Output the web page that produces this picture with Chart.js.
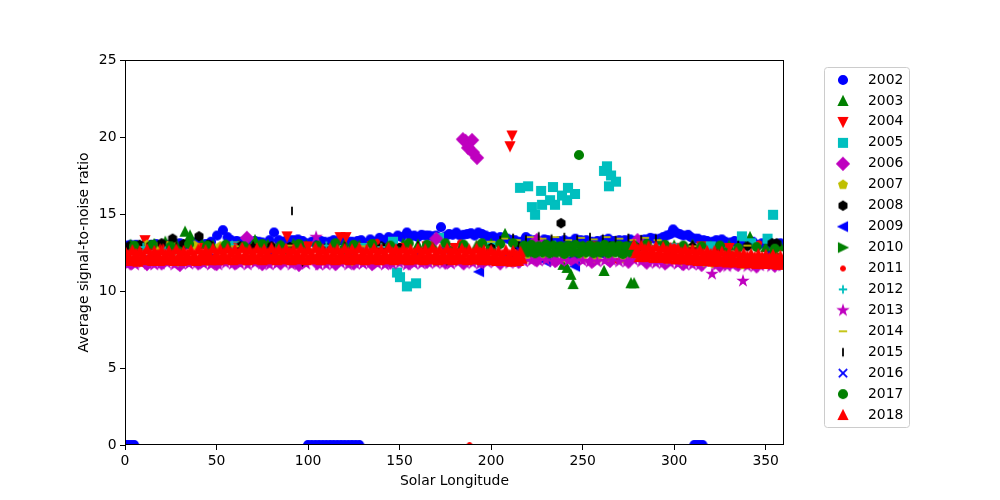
<!DOCTYPE html>
<html>
<head>
<meta charset="utf-8">
<script src="https://cdn.jsdelivr.net/npm/chart.js@4.4.0/dist/chart.umd.min.js"></script>
<style>
  html, body { margin: 0; padding: 0; background: #fff; }
</style>
</head>
<body>
<canvas id="chart" width="1000" height="500"></canvas>
<script>
const years = ['2002', '2003', '2004', '2005', '2006', '2007', '2008', '2009', '2010',
  '2011', '2012', '2013', '2014', '2015', '2016', '2017', '2018'];

// [solar longitude, average SNR] pairs
const snr2002 = [[0.5,0],[2,0],[3.5,0],[5,0],[100,0],[102,0],[104,0],[106,0],[108,0],[110,0],[112,0],
  [114,0],[116,0],[118,0],[120,0],[122,0],[124,0],[126,0],[128,0],[311,0],[312.5,0],[314,0],[315.5,0],
  [3,13.0],[8,12.9],[14,13.0],[20,12.95],[27,13.1],[33,13.0],[38,13.15],[44,13.05],[50.3,13.6],[53.5,13.95],
  [58,13.3],[63,13.2],[68,13.15],[73,13.2],[77,13.05],[81.4,13.8],[86,13.2],[90,13.3],[94.5,13.35],[99,13.1],
  [104,13.25],[109,13.2],[114,13.3],[119,13.25],[124,13.2],[129,13.3],[134,13.35],[139,13.45],[144,13.5],
  [149,13.6],[154,13.8],[158,13.6],[162,13.65],[166,13.6],[172.6,14.15],[177,13.7],[181,13.8],[185,13.65],
  [189,13.75],[193,13.8],[197,13.6],[201,13.55],[205,13.5],[209,13.4],[213,13.3],[219,13.5],[224,13.3],
  [229,13.35],[234,13.2],[240,13.3],[246,13.4],[252,13.3],[258,13.25],[264,13.4],[270,13.3],[276,13.35],
  [282,13.3],[287,13.45],[292,13.4],[296,13.6],[299.4,14.0],[303,13.7],[307.6,13.65],[311,13.4],[316,13.3],
  [321,13.2],[326,13.35],[331,13.15],[336,13.2],[341,13.1],[346,13.0],[351,13.1],[356,13.05],[359,13.0],
  [1,12.95],[6,13.0],[11,12.95],[17,13.05],[24,13.0],[30,13.1],[36,13.05],[41,13.1],[47,13.2],[56,13.5],
  [61,13.25],[66,13.2],[71,13.25],[75,13.15],[79,13.3],[84,13.3],[88,13.25],[92,13.3],[97,13.25],[102,13.2],
  [107,13.25],[112,13.2],[117,13.3],[122,13.2],[127,13.25],[131,13.1],[136,13.2],[141,13.3],[146,13.4],
  [151,13.5],[156,13.55],[160,13.5],[164,13.6],[168,13.55],[170,13.6],[175,13.55],[179,13.65],[183,13.6],
  [187,13.7],[191,13.6],[195,13.7],[199,13.5],[203,13.4],[207,13.45],[211,13.3],[216,13.2],[221,13.35],
  [226,13.2],[231,13.3],[237,13.25],[243,13.2],[249,13.3],[255,13.2],[261,13.3],[267,13.25],[273,13.3],
  [279,13.25],[284,13.35],[289,13.4],[294,13.5],[298,13.7],[301,13.8],[305,13.6],[309,13.5],[313,13.4],
  [318,13.25],[323,13.3],[328,13.2],[333,13.25],[338,13.1],[343,13.2],[348,13.1],[353,13.0],[358,13.1],
  [2,11.85],[12,12.0],[48,12.1],[160,12.3],[230,12.4],[250,12.5],[270,12.6],[330,12.2]];
const snr2003 = [[3,13.0],[10,12.95],[16,13.05],[22,13.2],[28,13.0],[32.8,13.85],[35.5,13.6],[42,13.05],
  [48,12.95],[55,13.0],[62,12.95],[71,13.3],[78,13.0],[85,12.95],[92,13.05],[99,12.95],[106,13.0],[113,12.95],
  [120,13.05],[128,12.95],[136,13.0],[144,12.95],[152,13.05],[160,13.0],[168,13.05],[176,12.95],[184,13.0],
  [192,12.95],[200,13.05],[207.6,13.7],[214,13.05],[222,12.9],[230,12.95],[239.3,11.7],[241.5,11.5],
  [243.6,11.05],[244.8,10.45],[250,12.9],[256,12.85],[261.7,11.3],[268,12.9],[276.4,10.5],[278.1,10.5],
  [285,13.05],[292,13.1],[300,12.95],[310,13.0],[320,12.9],[330,12.95],[341.4,13.5],[350,12.85],[358,12.9]];
const snr2004 = [[10.9,13.3],[25,12.9],[40,12.8],[60,12.9],[75,12.8],[88.5,13.55],[100,12.9],[117.5,13.5],
  [120.7,13.5],[135,12.9],[150,12.8],[165,12.9],[180,12.8],[195,12.9],[210.3,19.4],[211.4,20.1],[225,12.9],
  [240,12.8],[255,12.9],[270,12.8],[285,12.9],[300,12.8],[315,12.9],[330,12.8],[345,12.9]];
const snr2005 = [[146.4,13.2],[171.5,13.45],[148.6,11.2],[150.2,10.9],[154,10.3],[159,10.5],
  [215.8,16.7],[220.2,16.8],[222.3,15.45],[224,14.95],[227.3,16.5],[227.8,15.6],[232.2,15.9],[233.8,16.75],
  [234.9,15.6],[238.7,16.2],[241.5,15.9],[242,16.7],[245.8,16.3],[261.7,17.8],[263.3,18.1],[264.4,16.8],
  [265.5,17.5],[268.2,17.1],[337,13.55],[342,13.1],[351,13.4],[354,14.95],
  [20,12.8],[60,12.9],[90,12.7],[130,12.8],[200,12.9],[250,12.7],[300,12.8],[320,12.9]];
const snr2006 = [[184.6,19.85],[186,19.75],[189.6,19.8],[187.4,19.3],[190.1,19.0],[192.3,18.65],
  [3,11.8],[12,11.75],[20,11.8],[30,11.7],[40,11.8],[50,11.75],[60,11.8],[66.6,13.45],[75,11.75],[85,11.8],
  [95,11.7],[105,11.8],[115,11.75],[125,11.8],[135,11.75],[145,11.85],[155,11.8],[165,11.9],[170,13.4],
  [175,11.85],[185,11.8],[195,11.85],[205,11.8],[215,11.9],[225,12.0],[225,13.3],[235,11.95],[245,12.0],
  [255,11.9],[265,11.95],[275,11.9],[280,13.3],[285,11.85],[295,11.8],[305,11.75],[315,11.7],[325,11.65],
  [335,11.7],[345,11.6],[355,11.65]];
const snr2007 = [[5,12.9],[12,13.0],[18,12.85],[25,13.05],[30,11.85],[38,12.95],[45,11.9],[52,12.9],
  [65,11.95],[80,12.0],[95,11.95],[110,12.0],[125,11.9],[140,12.0],[150,11.95],[160,12.05],[170,11.9],
  [180,12.0],[190,11.95],[200,12.0],[210,12.05],[220,12.15],[230,12.2],[240,12.15],[250,12.2],[258,12.1],
  [265,12.2],[272,12.1],[286,12.1],[295,12.0],[305,11.9],[315,11.85],[322,11.75],[330,11.8],[338,11.7],
  [348,11.8],[356,11.75]];
const snr2008 = [[2,12.9],[8,13.0],[14,12.95],[20,13.1],[26,13.4],[32,13.05],[40.4,13.55],[46,13.0],
  [55,12.85],[63,12.9],[70,12.8],[80,12.9],[90,12.85],[96.7,11.9],[110,12.8],[125,12.85],[140,12.9],
  [150,12.8],[165,12.85],[175,11.95],[185,12.9],[200,12.8],[215,12.9],[238.2,14.4],[250,12.85],[265,12.9],
  [280,12.8],[295,12.9],[310,12.85],[325,12.8],[340,12.9],[353.5,13.1],[356,13.1]];
const snr2009 = [[15,12.3],[45,12.2],[80,12.4],[120,12.2],[160,12.3],[193.4,11.25],[210,12.3],[230,11.9],
  [245.8,11.6],[260,12.4],[290,12.3],[320,12.2],[350,12.3]];
const snr2010 = [[5,12.6],[30,12.7],[60,12.6],[90,12.7],[120,12.6],[150,12.65],[180,12.6],[200,12.7],
  [218,12.6],[221,12.9],[224,12.5],[227,12.8],[230,12.55],[233,12.95],[236,12.5],[239,12.85],[242,12.55],
  [245,12.9],[248,12.5],[251,12.85],[254,12.55],[257,12.9],[260,12.5],[263,12.85],[266,12.55],[269,12.9],
  [272,12.5],[275,12.85],[278,12.6],[300,12.6],[330,12.5],[355,12.4]];
const snr2011 = [[20,12.9],[60,12.95],[137.7,13.2],[183,13.15],[188.2,0],[225,12.9],[268.8,11.95],
  [300,12.9],[346.4,13.1]];
const snr2012 = [[10,12.85],[35,12.9],[58.5,13.0],[85,12.9],[110,12.95],[140,12.85],[175,12.9],
  [205,12.95],[235,13.0],[260,12.9],[290,12.95],[320,12.85],[345,12.9]];
const snr2013 = [[2,11.75],[9,11.8],[16,11.7],[23,11.8],[31,11.75],[39,11.8],[47,11.7],[55,11.8],
  [63,11.75],[71,11.8],[79,11.7],[87,11.8],[95,11.75],[104.4,13.5],[110,11.7],[118,11.8],[126,11.75],
  [134,11.8],[142,11.7],[150,11.8],[158,11.75],[166,11.8],[174,11.8],[182,11.85],[190,11.8],[198,11.85],
  [206,11.9],[214,11.85],[222,11.95],[230,12.0],[238,11.95],[246,12.0],[254,11.9],[262,11.95],[270,11.9],
  [278,12.0],[286,11.85],[294,11.8],[302,11.75],[310,11.7],[320.7,11.1],[326,11.7],[332,11.65],
  [337.6,10.65],[344,11.6],[350,11.7],[356,11.65],
  [5.5,11.7],[12.5,11.75],[19.5,11.75],[27,11.7],[35,11.75],[43,11.75],[51,11.7],[59,11.75],[67,11.7],
  [75,11.75],[83,11.75],[91,11.7],[99,11.75],[106,11.7],[114,11.75],[122,11.7],[130,11.75],[138,11.75],
  [146,11.75],[154,11.7],[162,11.75],[170,11.8],[178,11.75],[186,11.8],[194,11.75],[202,11.85],[210,11.8],
  [218,11.9],[226,11.95],[234,11.9],[242,11.95],[250,11.95],[258,11.9],[266,12.0],[274,11.9],[282,11.9],
  [290,11.8],[298,11.8],[306,11.7],[314,11.7],[323,11.65],[329,11.6],[340,11.6],[347,11.65],[353,11.6],
  [359,11.65]];
const snr2014 = [[15,13.0],[35,12.95],[60,12.9],[90,12.95],[130,12.9],[165,12.95],[200,13.2],[207,13.4],
  [214,13.3],[221,13.5],[228,13.4],[235,13.5],[242,13.3],[249,13.45],[256,13.35],[263,13.5],[270,13.4],
  [277,13.3],[284,13.45],[291,13.3],[310,12.9],[340,12.95]];
const snr2015 = [[91.2,15.2],[20,13.0],[28,12.9],[45,13.05],[70,12.95],[120,12.9],[160,12.95],[205,13.3],
  [212,13.45],[219,13.35],[226,13.55],[233,13.4],[240,13.5],[247,13.35],[254,13.5],[261,13.4],[268,13.3],
  [275,13.45],[282,13.35],[290,13.4],[310,13.0],[335,13.0]];
const snr2016 = [[25,12.5],[75,12.6],[125,12.5],[175,12.6],[215,12.7],[245,12.4],[285,12.6],[335,12.5]];
const snr2017 = [[5,12.95],[15,13.0],[25,12.9],[35,13.05],[45,12.95],[55,13.0],[65,12.9],[75,13.05],
  [85,12.95],[95,13.05],[105,12.95],[115,13.1],[125,13.0],[135,13.05],[145,12.95],[155,13.1],[165,13.0],
  [175,13.1],[185,13.0],[195,13.1],[205,13.05],[212,13.1],[218,12.95],[220,12.5],[222,13.0],[224,12.45],
  [226,12.9],[228,12.5],[230,13.0],[232,12.45],[234,12.95],[236,12.5],[238,12.9],[240,12.4],[242,12.95],
  [244,12.5],[246,13.0],[248,12.45],[248,18.83],[250,12.9],[252,12.5],[254,12.95],[256,12.45],[258,12.9],
  [260,12.5],[262,13.0],[264,12.45],[266,12.9],[268,12.5],[270,12.95],[272,12.4],[274,12.9],[276,12.5],
  [278,12.95],[285,13.05],[295,13.0],[305,12.95],[315,12.9],[325,12.95],[335,12.8],[345,12.85],[355,12.75]];
const snr2018 = [
  [0,12.6],[1,12.1],[2,12.35],[3,11.95],[4,12.65],[5,12.15],[6,12.4],[7,11.9],[8,12.6],[9,12.1],
  [10,12.35],[11,12.0],[12,12.7],[13,12.15],[14,12.4],[15,11.95],[16,12.6],[17,12.1],[18,12.35],[19,11.95],
  [20,12.65],[21,12.15],[22,12.4],[23,12.0],[24,12.6],[25,12.1],[26,12.35],[27,11.95],[28,12.7],[29,12.15],
  [30,12.4],[31,11.95],[32,12.6],[33,12.1],[34,12.4],[35,12.0],[36,12.65],[37,12.15],[38,12.35],[39,11.95],
  [40,12.7],[41,12.15],[42,12.45],[43,12.0],[44,12.65],[45,12.2],[46,12.4],[47,12.0],[48,12.75],[49,12.15],
  [50,12.45],[51,12.0],[52,12.7],[53,12.2],[54,12.45],[55,12.05],[56,12.75],[57,12.15],[58,12.5],[59,12.0],
  [60,12.7],[61,12.2],[62,12.45],[63,12.05],[64,12.8],[65,12.15],[66,12.5],[67,12.0],[68,12.7],[69,12.2],
  [70,12.45],[71,12.05],[72,12.75],[73,12.15],[74,12.5],[75,12.0],[76,12.7],[77,12.2],[78,12.45],[79,12.05],
  [80,12.8],[81,12.2],[82,12.5],[83,12.0],[84,12.7],[85,12.15],[86,12.45],[87,12.05],[88,12.75],[89,12.2],
  [90,12.5],[91,12.0],[92,12.7],[93,12.15],[94,12.45],[95,12.05],[96,12.75],[97,12.2],[98,12.5],[99,12.0],
  [100,12.7],[101,12.15],[102,12.45],[103,12.05],[104,12.8],[105,12.2],[106,12.5],[107,12.0],[108,12.7],[109,12.15],
  [110,12.45],[111,12.05],[112,12.75],[113,12.2],[114,12.5],[115,12.0],[116,12.7],[117,12.15],[118,12.45],[119,12.05],
  [120,12.75],[121,12.2],[122,12.5],[123,12.0],[124,12.7],[125,12.15],[126,12.45],[127,12.05],[128,12.8],[129,12.2],
  [130,12.5],[131,12.0],[132,12.7],[133,12.15],[134,12.45],[135,12.05],[136,12.75],[137,12.2],[138,12.5],[139,12.0],
  [140,12.7],[141,12.15],[142,12.45],[143,12.05],[144,12.8],[145,12.2],[146,12.5],[147,12.0],[148,12.7],[149,12.15],
  [150,12.45],[151,12.05],[152,12.75],[153,12.2],[154,12.5],[155,12.0],[156,12.7],[157,12.15],[158,12.45],[159,12.05],
  [160,12.75],[161,12.2],[162,12.5],[163,12.0],[164,12.7],[165,12.15],[166,12.45],[167,12.05],[168,12.8],[169,12.2],
  [170,12.5],[171,12.0],[172,12.7],[173,12.15],[174,12.45],[175,12.05],[176,12.75],[177,12.2],[178,12.5],[179,12.0],
  [180,12.7],[181,12.15],[182,12.45],[183,12.05],[184,12.75],[185,12.2],[186,12.5],[187,12.0],[188,12.7],[189,12.15],
  [190,12.45],[191,12.05],[192,12.75],[193,12.2],[194,12.5],[195,12.0],[196,12.65],[197,12.15],[198,12.4],[199,12.0],
  [200,12.65],[201,12.1],[202,12.4],[203,11.95],[204,12.6],[205,12.1],[206,12.35],[207,11.95],[208,12.65],[209,12.1],
  [210,12.35],[211,11.9],[212,12.6],[213,12.1],[214,12.35],[215,11.95],[216,12.55],[217,12.1],
  [278,13.0],[279,12.45],[280,12.7],[281,12.2],[282,12.95],[283,12.4],[284,12.7],[285,12.2],[286,12.9],[287,12.4],
  [288,12.65],[289,12.15],[290,12.9],[291,12.35],[292,12.6],[293,12.15],[294,12.85],[295,12.3],[296,12.6],[297,12.1],
  [298,12.8],[299,12.3],[300,12.55],[301,12.05],[302,12.75],[303,12.25],[304,12.5],[305,12.05],[306,12.7],[307,12.2],
  [308,12.5],[309,12.0],[310,12.7],[311,12.2],[312,12.45],[313,11.95],[314,12.65],[315,12.15],[316,12.4],[317,11.95],
  [318,12.6],[319,12.1],[320,12.4],[321,11.9],[322,12.6],[323,12.1],[324,12.35],[325,11.9],[326,12.55],[327,12.05],
  [328,12.3],[329,11.85],[330,12.5],[331,12.0],[332,12.3],[333,11.85],[334,12.5],[335,12.0],[336,12.25],[337,11.8],
  [338,12.45],[339,11.95],[340,12.25],[341,11.8],[342,12.4],[343,11.95],[344,12.2],[345,11.75],[346,12.4],[347,11.9],
  [348,12.2],[349,11.75],[350,12.35],[351,11.9],[352,12.15],[353,11.75],[354,12.35],[355,11.85],[356,12.15],[357,11.7],
  [358,12.3],[359,11.85],[360,12.1]];

const series = [snr2002, snr2003, snr2004, snr2005, snr2006, snr2007, snr2008, snr2009, snr2010,
  snr2011, snr2012, snr2013, snr2014, snr2015, snr2016, snr2017, snr2018];

const xTicks = [0, 50, 100, 150, 200, 250, 300, 350];
const yTicks = [0, 5, 10, 15, 20, 25];

const colors = ['#0000ff', '#008000', '#ff0000', '#00bfbf', '#bf00bf', '#bfbf00', '#000000',
  '#0000ff', '#008000', '#ff0000', '#00bfbf', '#bf00bf', '#bfbf00', '#000000',
  '#0000ff', '#008000', '#ff0000'];
const markers = ['o', '^', 'v', 's', 'D', 'p', 'h', '<', '>', '.', '+', '*', '_', '|', 'x', 'o', '^'];

// matplotlib-like marker glyphs
const MS = 8.33, LW = 1.8;
function makeMarker(kind, color) {
  const c = document.createElement('canvas');
  c.width = c.height = 22;
  const g = c.getContext('2d');
  g.translate(11, 11);
  g.fillStyle = color;
  g.strokeStyle = color;
  g.lineWidth = LW;
  const h = MS / 2;
  const poly = pts => {
    g.beginPath();
    pts.forEach(([x, y], i) => i ? g.lineTo(x * h, y * h) : g.moveTo(x * h, y * h));
    g.closePath();
    g.fill();
    g.stroke();
  };
  const regular = (n, inner) => {
    const pts = [];
    const k = inner ? 2 * n : n;
    for (let i = 0; i < k; i++) {
      const a = 2 * Math.PI * i / k;
      const r = inner && i % 2 ? inner : 1;
      pts.push([r * Math.sin(a), -r * Math.cos(a)]);
    }
    poly(pts);
  };
  const lines = segs => {
    g.beginPath();
    segs.forEach(([x1, y1, x2, y2]) => { g.moveTo(x1 * h, y1 * h); g.lineTo(x2 * h, y2 * h); });
    g.stroke();
  };
  switch (kind) {
    case 'o': g.beginPath(); g.arc(0, 0, h, 0, 2 * Math.PI); g.fill(); g.stroke(); break;
    case '.': g.beginPath(); g.arc(0, 0, h / 2, 0, 2 * Math.PI); g.fill(); g.stroke(); break;
    case '^': poly([[0, -1], [-1, 1], [1, 1]]); break;
    case 'v': poly([[0, 1], [-1, -1], [1, -1]]); break;
    case '<': poly([[-1, 0], [1, -1], [1, 1]]); break;
    case '>': poly([[1, 0], [-1, -1], [-1, 1]]); break;
    case 's': poly([[-1, -1], [1, -1], [1, 1], [-1, 1]]); break;
    case 'D': poly([[0, -1.414], [1.414, 0], [0, 1.414], [-1.414, 0]]); break;
    case 'p': regular(5); break;
    case 'h': regular(6); break;
    case '*': regular(5, 0.381966); break;
    case '+': lines([[-1, 0, 1, 0], [0, -1, 0, 1]]); break;
    case 'x': lines([[-1, -1, 1, 1], [-1, 1, 1, -1]]); break;
    case '_': lines([[-1, 0, 1, 0]]); break;
    case '|': lines([[0, -1, 0, 1]]); break;
  }
  return c;
}

const glyphs = markers.map((m, i) => makeMarker(m, colors[i]));

const datasets = years.map((yr, i) => ({
  label: yr,
  data: series[i].map(([lon, snr]) => ({ x: lon, y: snr })),
  pointStyle: glyphs[i],
  pointRadius: 5,
  backgroundColor: colors[i],
  borderColor: colors[i],
  clip: 0,
  order: years.length - i
}));

const font = { family: 'DejaVu Sans', size: 13.9 };

const framePlugin = {
  id: 'frame',
  afterDraw(chart) {
    const { ctx, chartArea: a } = chart;
    ctx.save();
    ctx.strokeStyle = '#000';
    ctx.lineWidth = 1;
    ctx.strokeRect(a.left + 0.5, a.top + 0.5, a.right - a.left - 1, a.bottom - a.top - 1);

    // legend box
    const bx = 824.5, by = 67.5, bw = 85, bh = 360, r = 3;
    ctx.beginPath();
    ctx.moveTo(bx + r, by);
    ctx.arcTo(bx + bw, by, bx + bw, by + bh, r);
    ctx.arcTo(bx + bw, by + bh, bx, by + bh, r);
    ctx.arcTo(bx, by + bh, bx, by, r);
    ctx.arcTo(bx, by, bx + bw, by, r);
    ctx.closePath();
    ctx.fillStyle = 'rgba(255,255,255,0.8)';
    ctx.fill();
    ctx.strokeStyle = '#cccccc';
    ctx.stroke();

    ctx.font = '13.9px "DejaVu Sans"';
    ctx.fillStyle = '#000';
    ctx.textBaseline = 'middle';
    ctx.textAlign = 'left';
    years.forEach((yr, i) => {
      const y = 80 + i * 20.94;
      const gl = glyphs[i];
      ctx.drawImage(gl, 843 - gl.width / 2, y - gl.height / 2);
      ctx.fillText(yr, 868, y);
    });
    ctx.restore();
  }
};

new Chart(document.getElementById('chart'), {
  type: 'scatter',
  data: { datasets },
  options: {
    responsive: false,
    animation: false,
    events: [],
    layout: { padding: { top: 60, right: 216, bottom: 0, left: 0 } },
    plugins: { legend: { display: false }, tooltip: { enabled: false } },
    scales: {
      x: {
        type: 'linear',
        min: 0,
        max: 360,
        afterFit: s => { s.height = 55; },
        afterBuildTicks: s => { s.ticks = xTicks.map(v => ({ value: v })); },
        grid: { drawOnChartArea: false, drawTicks: true, tickLength: 5, color: '#000', tickColor: '#000' },
        border: { display: false },
        ticks: { font, color: '#000', padding: 3, maxRotation: 0 },
        title: { display: true, text: 'Solar Longitude', font, color: '#000', padding: { top: 0, bottom: 10.6 } }
      },
      y: {
        type: 'linear',
        min: 0,
        max: 25,
        afterFit: s => { s.width = 125; },
        afterBuildTicks: s => { s.ticks = yTicks.map(v => ({ value: v })); },
        grid: { drawOnChartArea: false, drawTicks: true, tickLength: 5, color: '#000', tickColor: '#000' },
        border: { display: false },
        ticks: { font, color: '#000', padding: 3.5 },
        title: { display: true, text: 'Average signal-to-noise ratio', font, color: '#000', padding: { top: 75.6, bottom: 0 } }
      }
    }
  },
  plugins: [framePlugin]
});
</script>
</body>
</html>
